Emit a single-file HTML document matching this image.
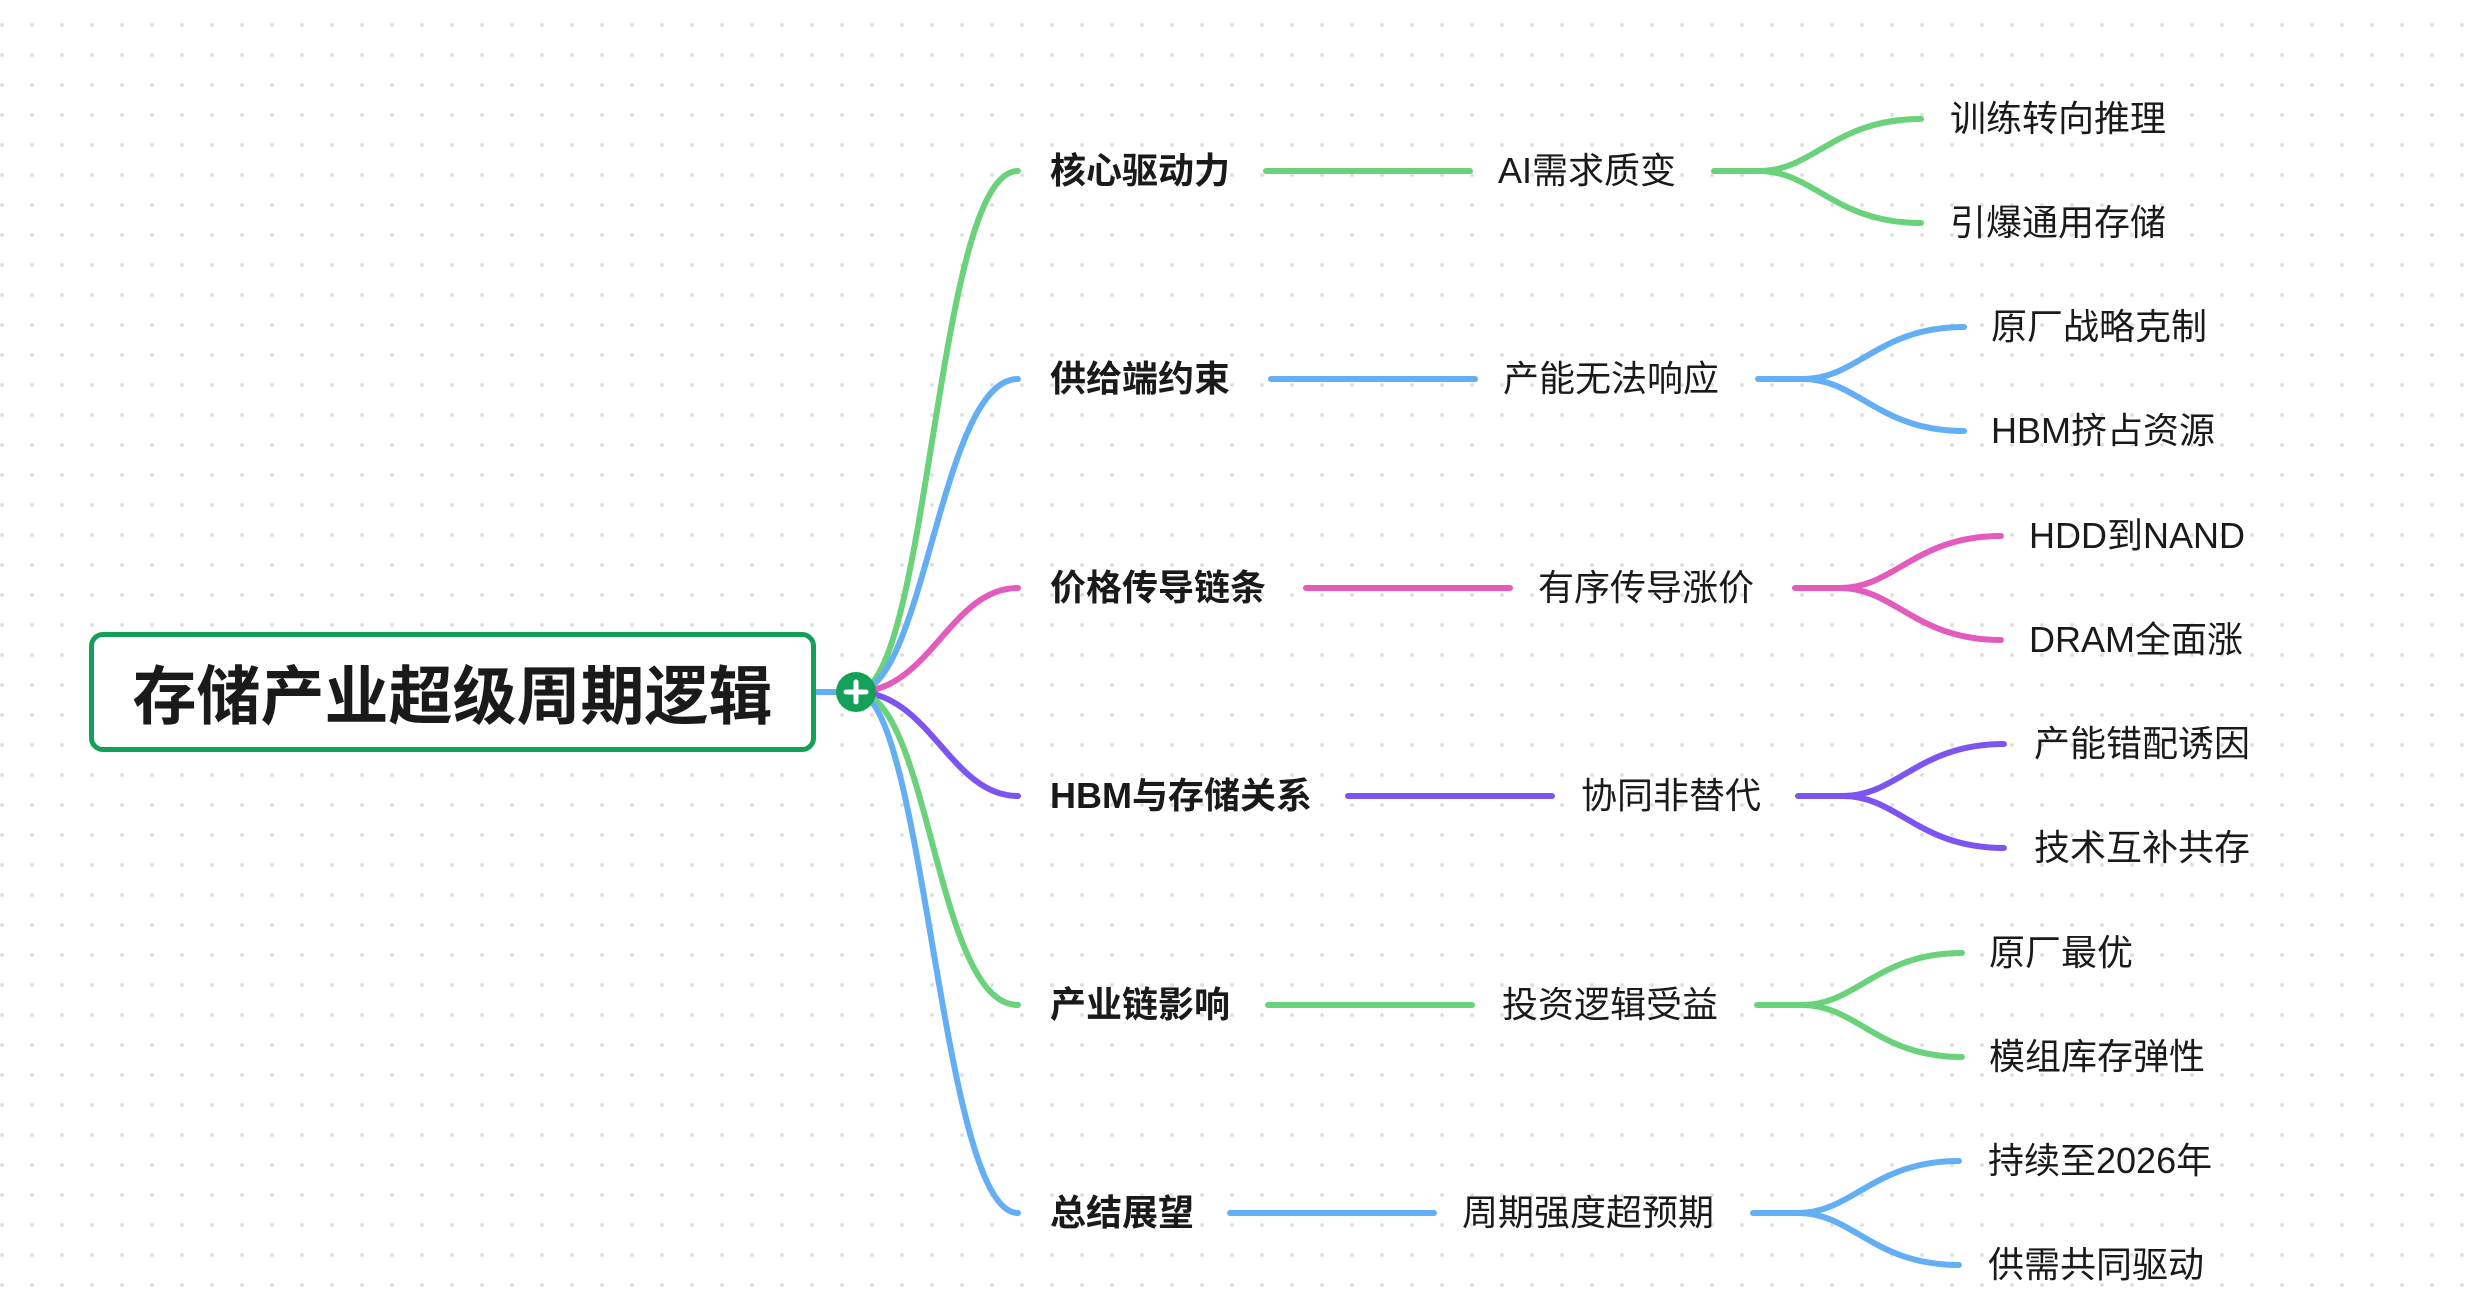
<!DOCTYPE html>
<html><head><meta charset="utf-8"><style>
html,body{margin:0;padding:0}
body{width:2486px;height:1312px;position:relative;overflow:hidden;background-color:#fff;
background-image:radial-gradient(circle,#dcdcdc 1.6px,transparent 2.2px);background-size:30px 30px;background-position:-13px 10px;
font-family:"Liberation Sans","Noto Sans CJK SC",sans-serif;color:#1a1a1a}
.t{position:absolute;white-space:nowrap;font-size:36px;line-height:40px;transform:translateY(-50%)}
.b{font-weight:bold}
#root{position:absolute;left:89px;top:632px;width:727px;height:120px;border:5px solid #15a05a;border-radius:14px;box-sizing:border-box;display:flex;align-items:center;justify-content:center;font-size:64px;font-weight:bold;background:#fff}
svg{position:absolute;left:0;top:0}
</style></head><body>
<svg width="2486" height="1312" fill="none" stroke-width="6" stroke-linecap="round">
<path d="M815 692 L840 692" stroke="#64aef5"/>
<path d="M856 692 C930 692 935 171 1018 171" stroke="#6ad27a"/>
<path d="M856 692 C925 692 940 379 1018 379" stroke="#64aef5"/>
<path d="M856 692 C930 692 950 588 1018 588" stroke="#e35bbd"/>
<path d="M856 692 C930 692 950 796 1018 796" stroke="#7c55f0"/>
<path d="M856 692 C930 692 935 1005 1018 1005" stroke="#6ad27a"/>
<path d="M856 692 C925 692 940 1213 1018 1213" stroke="#64aef5"/>
<g stroke="#6ad27a"><path d="M1266 171 L1470 171"/><path d="M1714 171 L1759 171 C1814 171 1834 119 1921 119 M1759 171 C1814 171 1834 223 1921 223"/></g>
<g stroke="#64aef5"><path d="M1271 379 L1475 379"/><path d="M1758 379 L1803 379 C1858 379 1878 327 1964 327 M1803 379 C1858 379 1878 431 1964 431"/></g>
<g stroke="#e35bbd"><path d="M1306 588 L1510 588"/><path d="M1795 588 L1840 588 C1895 588 1915 536 2001 536 M1840 588 C1895 588 1915 640 2001 640"/></g>
<g stroke="#7c55f0"><path d="M1348 796 L1552 796"/><path d="M1798 796 L1843 796 C1898 796 1918 744 2004 744 M1843 796 C1898 796 1918 848 2004 848"/></g>
<g stroke="#6ad27a"><path d="M1268 1005 L1472 1005"/><path d="M1757 1005 L1802 1005 C1857 1005 1877 953 1962 953 M1802 1005 C1857 1005 1877 1057 1962 1057"/></g>
<g stroke="#64aef5"><path d="M1230 1213 L1434 1213"/><path d="M1753 1213 L1798 1213 C1853 1213 1873 1161 1959 1161 M1798 1213 C1853 1213 1873 1265 1959 1265"/></g>
<circle cx="856" cy="692" r="20" fill="#15a05a" stroke="none"/>
<path d="M856 682 V702 M846 692 H866" stroke="#fff" stroke-width="5"/>
</svg>
<div id="root">存储产业超级周期逻辑</div>

<div class="t b" style="left:1050px;top:171px">核心驱动力</div>
<div class="t" style="left:1498px;top:171px">AI需求质变</div>
<div class="t" style="left:1950px;top:119px">训练转向推理</div>
<div class="t" style="left:1950px;top:223px">引爆通用存储</div>

<div class="t b" style="left:1050px;top:379px">供给端约束</div>
<div class="t" style="left:1503px;top:379px">产能无法响应</div>
<div class="t" style="left:1991px;top:327px">原厂战略克制</div>
<div class="t" style="left:1991px;top:431px">HBM挤占资源</div>

<div class="t b" style="left:1050px;top:588px">价格传导链条</div>
<div class="t" style="left:1538px;top:588px">有序传导涨价</div>
<div class="t" style="left:2029px;top:536px">HDD到NAND</div>
<div class="t" style="left:2029px;top:640px">DRAM全面涨</div>

<div class="t b" style="left:1050px;top:796px">HBM与存储关系</div>
<div class="t" style="left:1581px;top:796px">协同非替代</div>
<div class="t" style="left:2034px;top:744px">产能错配诱因</div>
<div class="t" style="left:2034px;top:848px">技术互补共存</div>

<div class="t b" style="left:1050px;top:1005px">产业链影响</div>
<div class="t" style="left:1502px;top:1005px">投资逻辑受益</div>
<div class="t" style="left:1989px;top:953px">原厂最优</div>
<div class="t" style="left:1989px;top:1057px">模组库存弹性</div>

<div class="t b" style="left:1050px;top:1213px">总结展望</div>
<div class="t" style="left:1462px;top:1213px">周期强度超预期</div>
<div class="t" style="left:1988px;top:1161px">持续至2026年</div>
<div class="t" style="left:1988px;top:1265px">供需共同驱动</div>
</body></html>
